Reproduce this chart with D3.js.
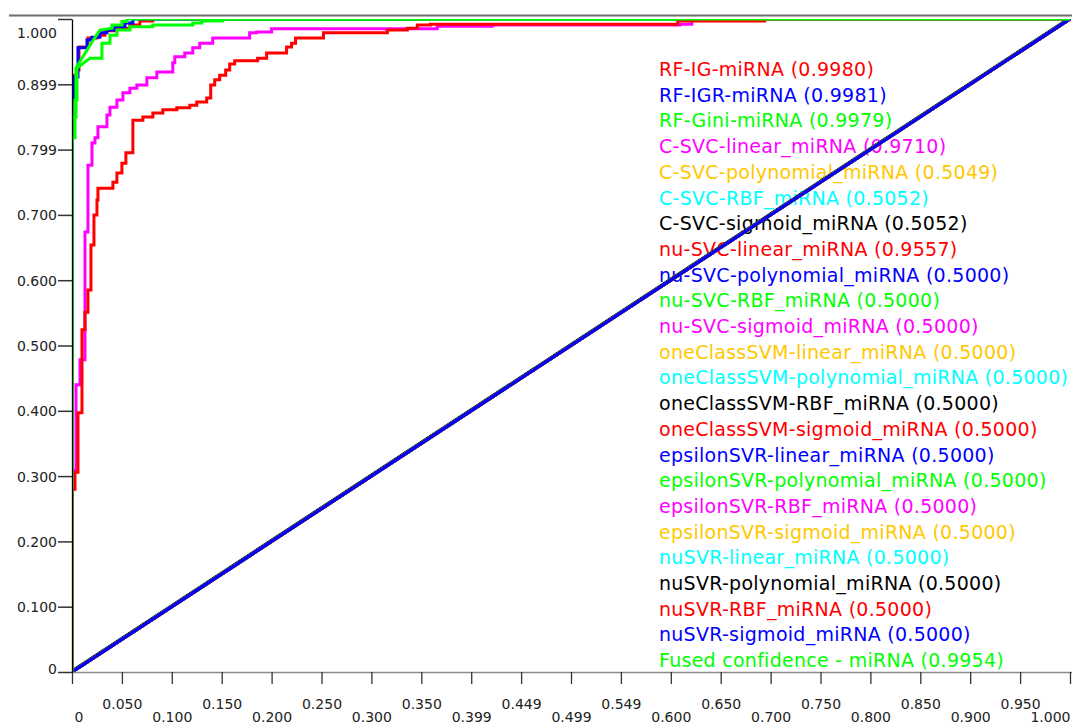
<!DOCTYPE html>
<html>
<head>
<meta charset="utf-8">
<script src="https://cdn.jsdelivr.net/npm/d3@7"></script>
<style>
   body { margin: 0; background: #fff; }
   .tickText { font-family: "DejaVu Sans", sans-serif; font-size: 14px; fill: #222; }
   .legend { font-family: "DejaVu Sans", sans-serif; font-size: 19px; letter-spacing: 0.27px; }
</style>
</head>
<body>
<div id="roc-chart"></div>
<script>
const width = 1072;
const height = 725;

// series names and AUC values, in drawing order
const names = [
   "RF-IG-miRNA", "RF-IGR-miRNA", "RF-Gini-miRNA",
   "C-SVC-linear_miRNA", "C-SVC-polynomial_miRNA", "C-SVC-RBF_miRNA", "C-SVC-sigmoid_miRNA",
   "nu-SVC-linear_miRNA", "nu-SVC-polynomial_miRNA", "nu-SVC-RBF_miRNA", "nu-SVC-sigmoid_miRNA",
   "oneClassSVM-linear_miRNA", "oneClassSVM-polynomial_miRNA", "oneClassSVM-RBF_miRNA", "oneClassSVM-sigmoid_miRNA",
   "epsilonSVR-linear_miRNA", "epsilonSVR-polynomial_miRNA", "epsilonSVR-RBF_miRNA", "epsilonSVR-sigmoid_miRNA",
   "nuSVR-linear_miRNA", "nuSVR-polynomial_miRNA", "nuSVR-RBF_miRNA", "nuSVR-sigmoid_miRNA",
   "Fused confidence - miRNA"
];
const aucs = [
   "0.9980", "0.9981", "0.9979",
   "0.9710", "0.5049", "0.5052", "0.5052",
   "0.9557", "0.5000", "0.5000", "0.5000",
   "0.5000", "0.5000", "0.5000", "0.5000",
   "0.5000", "0.5000", "0.5000", "0.5000",
   "0.5000", "0.5000", "0.5000", "0.5000",
   "0.9954"
];

// ROC points [false positive rate, true positive rate]
const rfIG = [[0,0],[0,0.876],[0.002,0.876],[0.002,0.914],[0.005,0.914],[0.005,0.922],[0.007,0.922],
   [0.007,0.957],[0.016,0.957],[0.016,0.971],[0.025,0.971],[0.025,0.975],[0.033,0.975],[0.033,0.982],
   [0.045,0.982],[0.045,0.986],[0.058,0.986],[0.058,0.991],[0.068,0.991],[0.068,0.997],[0.081,0.997],
   [0.081,1],[1,1]];
const rfIGR = [[0,0],[0,0.879],[0.002,0.879],[0.002,0.911],[0.006,0.911],[0.006,0.956],[0.015,0.956],
   [0.015,0.968],[0.020,0.968],[0.020,0.972],[0.028,0.972],[0.028,0.979],[0.035,0.979],[0.035,0.983],
   [0.043,0.983],[0.043,0.988],[0.053,0.988],[0.053,0.994],[0.061,0.994],[0.061,1],[1,1]];
const rfGini = [[0,0],[0,0.85],[0.004,0.85],[0.004,0.925],[0.010,0.94],[0.018,0.96],[0.028,0.983],
   [0.040,0.986],[0.040,0.991],[0.050,0.991],[0.050,0.996],[0.055,0.996],[0.055,1],[1,1]];
const svcLinear = [[0,0],[0,0.309],[0.004,0.309],[0.004,0.440],[0.008,0.440],[0.008,0.478],[0.013,0.478],
   [0.013,0.674],[0.016,0.674],[0.016,0.776],[0.020,0.776],[0.020,0.810],[0.023,0.810],[0.023,0.818],
   [0.026,0.818],[0.026,0.835],[0.035,0.835],[0.035,0.853],[0.038,0.853],[0.038,0.865],[0.045,0.865],
   [0.045,0.876],[0.051,0.876],[0.051,0.887],[0.058,0.887],[0.058,0.894],[0.065,0.894],[0.065,0.899],
   [0.075,0.899],[0.075,0.910],[0.085,0.910],[0.085,0.919],[0.101,0.919],[0.101,0.933],[0.103,0.933],
   [0.103,0.942],[0.113,0.942],[0.113,0.948],[0.121,0.948],[0.121,0.956],[0.128,0.956],[0.128,0.963],
   [0.141,0.963],[0.141,0.971],[0.178,0.971],[0.178,0.979],[0.185,0.979],[0.185,0.980],[0.200,0.980],
   [0.200,0.985],[0.366,0.985],[0.366,0.989],[0.421,0.989],[0.421,0.991],[0.609,0.991],[0.609,0.992],
   [0.621,0.992],[0.621,1],[1,1]];
const svcPoly = [[0,0],[0,0.0012],[0.9988,1],[1,1]];
const svcRbf = [[0,0],[0,0.0016],[0.9984,1],[1,1]];
const svcSigmoid = [[0,0],[0,0.0016],[0.9984,1],[1,1]];
const nuSvcLinear = [[0,0],[0,0.280],[0.003,0.280],[0.003,0.306],[0.006,0.306],[0.006,0.397],[0.010,0.397],
   [0.010,0.524],[0.013,0.524],[0.013,0.551],[0.016,0.551],[0.016,0.585],[0.019,0.585],[0.019,0.654],
   [0.022,0.654],[0.022,0.700],[0.025,0.700],[0.025,0.723],[0.026,0.723],[0.026,0.741],[0.041,0.741],
   [0.041,0.750],[0.045,0.750],[0.045,0.764],[0.050,0.764],[0.050,0.779],[0.054,0.779],[0.054,0.795],
   [0.061,0.795],[0.061,0.845],[0.071,0.845],[0.071,0.850],[0.081,0.850],[0.081,0.856],[0.091,0.856],
   [0.091,0.861],[0.105,0.861],[0.105,0.864],[0.118,0.864],[0.118,0.868],[0.125,0.868],[0.125,0.873],
   [0.135,0.873],[0.135,0.879],[0.139,0.879],[0.139,0.899],[0.143,0.899],[0.143,0.907],[0.148,0.907],
   [0.148,0.914],[0.154,0.914],[0.154,0.922],[0.158,0.922],[0.158,0.931],[0.163,0.931],[0.163,0.936],
   [0.186,0.936],[0.186,0.940],[0.195,0.940],[0.195,0.948],[0.215,0.948],[0.215,0.957],[0.220,0.957],
   [0.220,0.963],[0.224,0.963],[0.224,0.971],[0.252,0.971],[0.252,0.979],[0.316,0.979],[0.316,0.983],
   [0.336,0.983],[0.336,0.986],[0.346,0.986],[0.346,0.991],[0.359,0.991],[0.359,0.992],[0.607,0.992],
   [0.607,0.997],[0.694,0.997],[0.694,1],[1,1]];
const diagonal = [[0,0],[1,1]];
const fused = [[0,0],[0,0.818],[0.003,0.818],[0.003,0.876],[0.005,0.876],[0.005,0.925],[0.018,0.940],
   [0.030,0.940],[0.030,0.963],[0.038,0.963],[0.038,0.975],[0.045,0.975],[0.045,0.983],[0.058,0.983],
   [0.058,0.988],[0.081,0.988],[0.081,0.991],[0.121,0.991],[0.121,0.994],[0.130,0.994],[0.130,0.997],
   [0.151,0.997],[0.151,1],[1,1]];

const curves = [
   rfIG, rfIGR, rfGini,
   svcLinear, svcPoly, svcRbf, svcSigmoid,
   nuSvcLinear, diagonal, diagonal, diagonal,
   diagonal, diagonal, diagonal, diagonal,
   diagonal, diagonal, diagonal, diagonal,
   diagonal, diagonal, diagonal, diagonal,
   fused
];

// axis ticks
const xTicks = [0,0.05,0.1,0.15,0.2,0.25,0.3,0.35,0.4,0.45,0.5,0.55,0.6,0.65,0.7,0.75,0.8,0.85,0.9,0.95,1];
const xTickLabels = ["0","0.050","0.100","0.150","0.200","0.250","0.300","0.350","0.399","0.449","0.499",
   "0.549","0.600","0.650","0.700","0.750","0.800","0.850","0.900","0.950","1.000"];
const yTicks = [0,0.1,0.2,0.3,0.4,0.5,0.6,0.7,0.8,0.9,1];
const yTickLabels = ["0","0.100","0.200","0.300","0.400","0.500","0.600","0.700","0.799","0.899","1.000"];

// java-style colour cycle
const palette = ["#ff0000","#0000ff","#00ff00","#ff00ff","#ffc800","#00ffff","#000000"];

const margin = {top: 19, right: 2, bottom: 53, left: 72};

const svg = d3.select("#roc-chart").append("svg")
   .attr("width", width)
   .attr("height", height);

const x = d3.scaleLinear()
   .domain([0, 1])
   .range([margin.left, width-margin.right]);

const y = d3.scaleLinear()
   .domain([0, 1])
   .range([height-margin.bottom, margin.top]);

svg.append("clipPath")
   .attr("id", "plotClip")
   .append("rect")
   .attr("x", x(0)).attr("y", y(1))
   .attr("width", width-x(0)).attr("height", y(0)-y(1));

// frame line on top
svg.append("rect")
   .attr("x", 9).attr("y", 14)
   .attr("width", width-9).attr("height", 3)
   .style("fill", "#b4b4b4");
svg.append("line")
   .attr("x1", 9).attr("x2", width)
   .attr("y1", 15.5).attr("y2", 15.5)
   .style("stroke", "#6e6e6e");

// legend (curves are painted over it)
const rowGap = 25.7;
svg.selectAll("text.legend")
   .data(names)
   .enter()
   .append("text")
   .attr("class", "legend")
   .attr("x", 659)
   .attr("y", (d,i) => 76 + i*rowGap)
   .style("fill", (d,i) => palette[i % palette.length])
   .text((d,i) => d + " (" + aucs[i] + ")");

const line = d3.line()
   .x(d => x(d[0]))
   .y(d => y(d[1]));

svg.append("g")
   .attr("clip-path", "url(#plotClip)")
   .selectAll("path.roc")
   .data(curves)
   .enter()
   .append("path")
   .attr("class", "roc")
   .attr("d", line)
   .style("fill", "none")
   .style("stroke", (d,i) => palette[i % palette.length])
   .style("stroke-width", 3)
   .style("stroke-linejoin", "miter");

// x axis
const xAxis = svg.append("g")
   .attr("transform", `translate(0,${y(0)})`)
   .call(d3.axisBottom(x)
      .tickValues(xTicks)
      .tickSize(12)
      .tickSizeOuter(0)
      .tickFormat((d,i) => xTickLabels[i]));
xAxis.select(".domain")
   .attr("d", `M${x(0)},0.5H${width}`)
   .style("stroke", "#8c8c8c")
   .style("stroke-width", 1.5);
xAxis.selectAll(".tick line")
   .style("stroke", "#333")
   .style("stroke-width", 1.3);
xAxis.selectAll(".tick text")
   .attr("class", "tickText")
   .attr("dy", null)
   .attr("y", (d,i) => i % 2 ? 37 : 49.5)
   .style("text-anchor", (d,i) => i == 0 ? "start" : (i == xTicks.length-1 ? "end" : "middle"))
   .attr("x", (d,i) => i == 0 ? 2 : 0);

// y axis
const yAxis = svg.append("g")
   .attr("transform", `translate(${x(0)},0)`)
   .call(d3.axisLeft(y)
      .tickValues(yTicks)
      .tickSize(14)
      .tickSizeOuter(0)
      .tickPadding(1)
      .tickFormat((d,i) => yTickLabels[i]));
yAxis.select(".domain")
   .style("stroke", "#000")
   .style("stroke-width", 1.3);
yAxis.selectAll(".tick line")
   .style("stroke", "#333")
   .style("stroke-width", 1.5);
yAxis.selectAll(".tick text")
   .attr("class", "tickText")
   .attr("dy", null)
   .attr("y", (d,i) => i == 0 ? 1.5 : (i == yTicks.length-1 ? 18 : 5));
</script>
</body>
</html>
